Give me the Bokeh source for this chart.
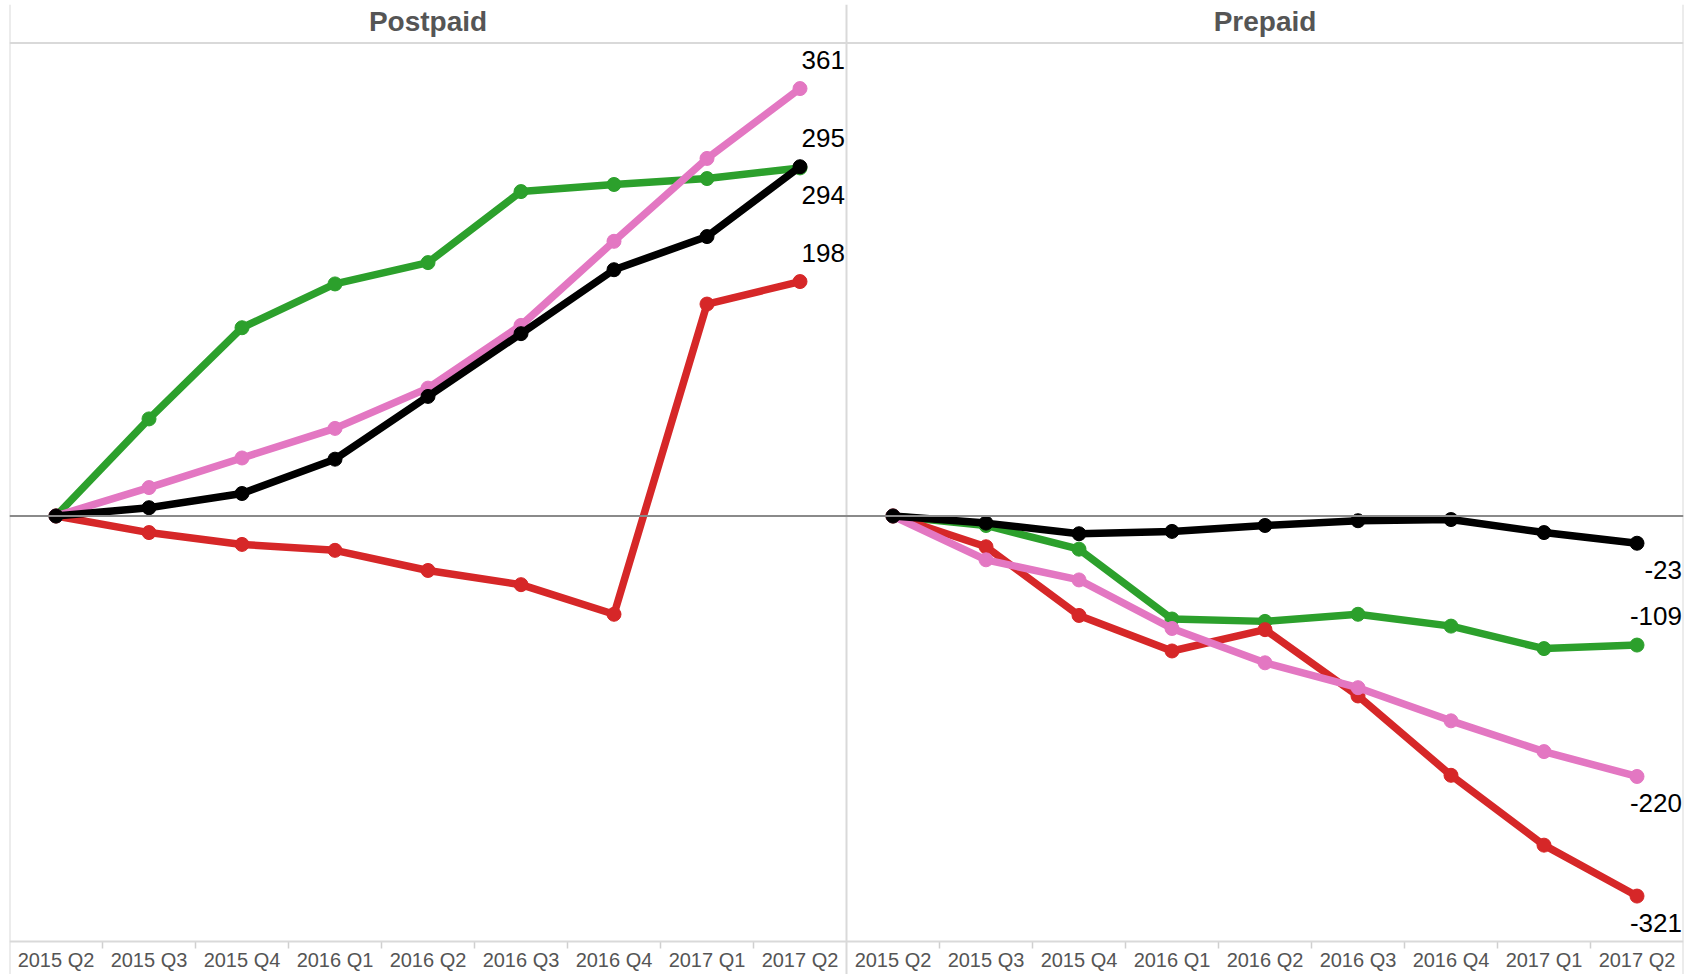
from bokeh.plotting import figure
from bokeh.models import (FactorRange, Range1d, Span, CategoricalAxis,
                          ColumnDataSource)
from bokeh.core.properties import value
from bokeh.embed import file_html
from bokeh.resources import INLINE

# ---------------- data ----------------
quarters = ["2015 Q2", "2015 Q3", "2015 Q4", "2016 Q1", "2016 Q2",
            "2016 Q3", "2016 Q4", "2017 Q1", "2017 Q2"]
panels = ["Postpaid", "Prepaid"]

postpaid_green = [0, 82, 159, 196, 214, 274, 280, 285, 294]
postpaid_red = [0, -14, -24, -29, -46, -58, -83, 179, 198]
postpaid_pink = [0, 24, 49, 74, 108, 161, 232, 302, 361]
postpaid_black = [0, 7, 19, 48, 101, 154, 208, 236, 295]

prepaid_green = [0, -8, -28, -87, -89, -83, -93, -112, -109]
prepaid_red = [0, -26, -84, -114, -96, -152, -219, -278, -321]
prepaid_pink = [0, -37, -54, -95, -124, -145, -173, -199, -220]
prepaid_black = [0, -6, -15, -13, -8, -4, -3, -14, -23]

series_colors = ["#2ca02c", "#d62728", "#e377c2", "#000000"]
postpaid_series = [postpaid_green, postpaid_red, postpaid_pink, postpaid_black]
prepaid_series = [prepaid_green, prepaid_red, prepaid_pink, prepaid_black]
# end-label placement (True = above the last point)
postpaid_label_above = [False, True, True, True]
prepaid_label_above = [True, False, False, False]

# ---------------- figure ----------------
FONT = "Liberation Sans"
factors = [(pn, q) for pn in panels for q in quarters]
n_q = len(quarters)
n_all = len(factors)

px_per_unit = 1.184
fig_w, fig_h = 1703, 974
frame_top = 4
zero_px = 515.5            # page px of the zero line
y_top = (zero_px - frame_top) / px_per_unit
y_bot = -(fig_h - zero_px) / px_per_unit
axis_y = -(941 - zero_px) / px_per_unit
tick_len = 7 / px_per_unit
header_line_y = (zero_px - 42.5) / px_per_unit
header_text_y = (zero_px - 21) / px_per_unit

p = figure(width=fig_w, height=fig_h,
           x_range=FactorRange(*factors, factor_padding=0, group_padding=0,
                               subgroup_padding=0, range_padding=0),
           y_range=Range1d(y_bot, y_top),
           output_backend="svg", toolbar_location=None,
           x_axis_location=None, y_axis_location=None,
           min_border_left=9, min_border_right=20,
           min_border_top=frame_top, min_border_bottom=0)
p.outline_line_color = None
p.background_fill_color = "white"
p.border_fill_color = "white"
for r in list(p.center):
    r.visible = False

# panel borders
for loc in [0, n_q, n_all]:
    p.add_layout(Span(location=loc, dimension="height",
                      line_color="#d9d9d9", line_width=2))
# header separator
p.add_layout(Span(location=header_line_y, dimension="width",
                  line_color="#d9d9d9", line_width=2))
# zero line
p.add_layout(Span(location=0, dimension="width",
                  line_color="#8a8a8a", line_width=1.8))

# headers
hdr = ColumnDataSource(dict(x=[(pn, quarters[n_q // 2]) for pn in panels],
                            y=[header_text_y] * len(panels), t=panels))
p.text(x="x", y="y", text="t", source=hdr, text_align="center",
       text_baseline="alphabetic", text_font=value(FONT),
       text_font_style="bold", text_font_size="28px", text_color="#555555")

# lines
for pn, series in zip(panels, [postpaid_series, prepaid_series]):
    xs = [(pn, q) for q in quarters]
    for vals, col in zip(series, series_colors):
        p.line(xs, vals, line_color=col, line_width=7.5, line_join="round",
               line_cap="round")
        p.scatter(xs, vals, size=14, fill_color=col, line_color=col,
                  marker="circle")

# end labels
lx, ly, lt, loff = [], [], [], []
for pn, series, above in zip(panels, [postpaid_series, prepaid_series],
                             [postpaid_label_above, prepaid_label_above]):
    for vals, ab in zip(series, above):
        lx.append((pn, quarters[-1]))
        ly.append(vals[-1])
        lt.append(str(vals[-1]))
        loff.append(-29 if ab else 27)
lab = ColumnDataSource(dict(x=lx, y=ly, t=lt, yo=loff))
p.text(x="x", y="y", text="t", source=lab, x_offset=45, y_offset="yo",
       text_align="right", text_baseline="alphabetic",
       text_font=value(FONT), text_font_size="26px", text_color="#000000")

# separator ticks between quarter bands (below the axis line)
sep = [i for i in range(1, n_all) if i % n_q != 0]
p.segment(x0=sep, x1=sep, y0=[axis_y] * len(sep), y1=[axis_y - tick_len] * len(sep),
          line_color="#cfcfcf", line_width=1.5)

# bottom category axis (quarters); panel level hidden
ax = CategoricalAxis(fixed_location=axis_y)
ax.axis_line_color = "#d9d9d9"
ax.axis_line_width = 2
ax.major_tick_line_color = None
ax.major_tick_out = 0
ax.major_tick_in = 0
ax.minor_tick_line_color = None
ax.major_label_standoff = 7
ax.major_label_text_font = FONT
ax.major_label_text_font_size = "20px"
ax.major_label_text_color = "#555555"
ax.group_text_font_size = "0px"
ax.group_text_color = None
ax.separator_line_color = None
p.add_layout(ax, "below")

open("out.html", "w").write(file_html(p, INLINE))
